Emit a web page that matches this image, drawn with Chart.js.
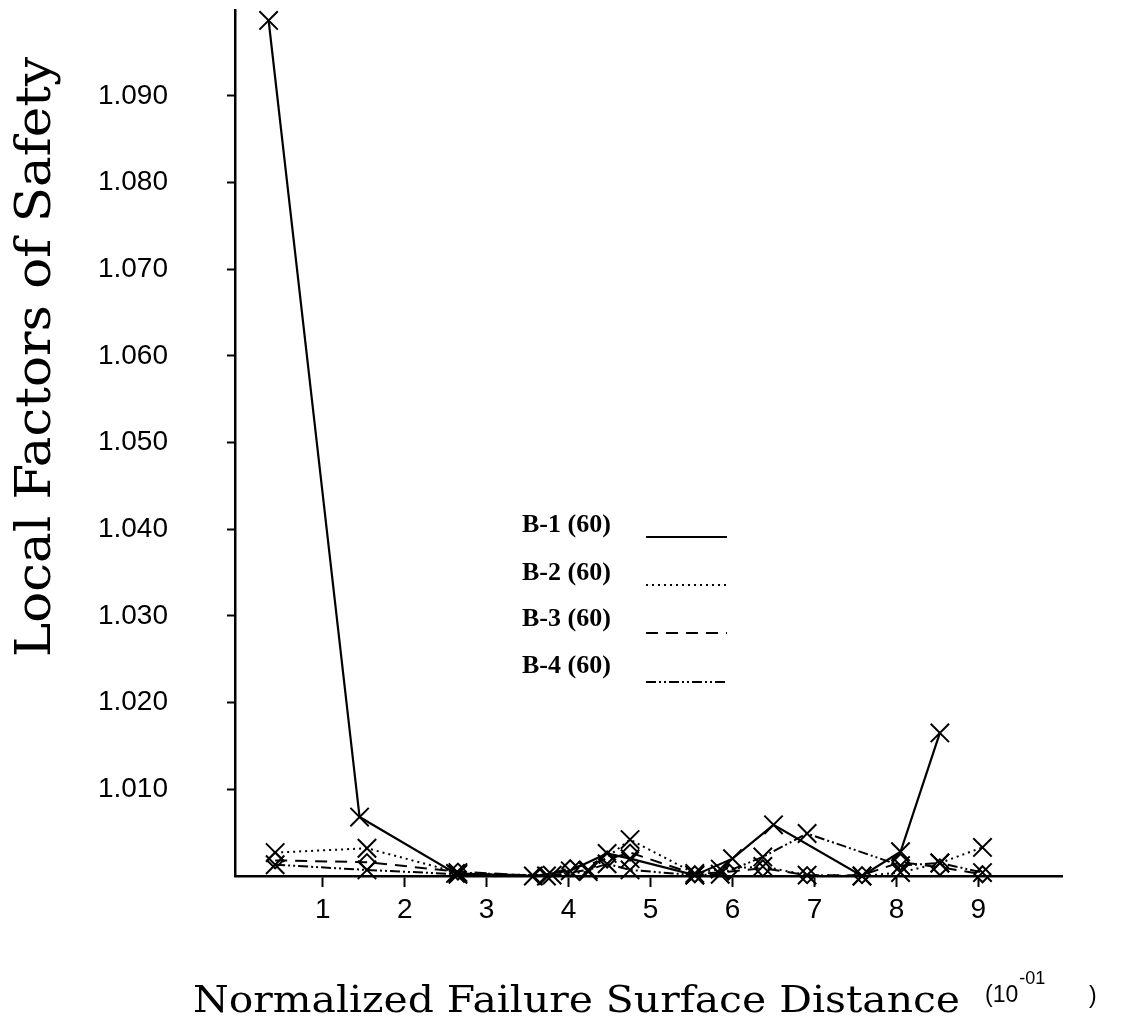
<!DOCTYPE html>
<html>
<head>
<meta charset="utf-8">
<script src="https://cdn.jsdelivr.net/npm/chart.js@4.4.1/dist/chart.umd.min.js"></script>
<style>
  html, body { margin: 0; padding: 0; background: #fff; }
  #wrap { width: 1139px; height: 1031px; }
</style>
</head>
<body>
<div id="wrap"><canvas id="c" width="1139" height="1031"></canvas></div>
<script>
// Local factors of safety along the normalized failure surface (x in units of 10^-1)
const seriesNames = ['B-1 (60)', 'B-2 (60)', 'B-3 (60)', 'B-4 (60)'];

const b1X = [0.34, 1.45, 2.62, 3.57, 4.02, 4.47, 4.75, 5.54, 6.00, 6.50, 7.58, 8.05, 8.53];
const b1Y = [1.0987, 1.0068, 1.0003, 1.0000, 1.0006, 1.0026, 1.0020, 1.0001, 1.0020, 1.0059, 1.0000, 1.0028, 1.0165];

const b2X = [0.42, 1.54, 2.65, 3.73, 4.24, 4.75, 5.54, 5.85, 6.37, 6.91, 7.58, 8.05, 8.53, 9.05];
const b2Y = [1.0027, 1.0032, 1.0004, 1.0000, 1.0005, 1.0042, 1.0003, 1.0008, 1.0011, 1.0001, 1.0000, 1.0004, 1.0015, 1.0033];

const b3X = [0.42, 1.54, 2.65, 3.65, 4.02, 4.47, 4.75, 5.54, 5.95, 6.37, 6.91, 7.58, 8.05, 8.53, 9.05];
const b3Y = [1.0018, 1.0016, 1.0005, 1.0000, 1.0009, 1.0019, 1.0027, 1.0002, 1.0005, 1.0009, 1.0001, 1.0001, 1.0016, 1.0010, 1.0002];

const b4X = [0.42, 1.54, 2.65, 3.80, 4.24, 4.47, 4.75, 5.54, 5.85, 6.37, 6.91, 8.05, 8.53, 9.05];
const b4Y = [1.0013, 1.0007, 1.0002, 1.0001, 1.0007, 1.0014, 1.0007, 1.0001, 1.0002, 1.0022, 1.0049, 1.0012, 1.0015, 1.0004];

const yTickValues = [1.010, 1.020, 1.030, 1.040, 1.050, 1.060, 1.070, 1.080, 1.090];
const xTickValues = [1, 2, 3, 4, 5, 6, 7, 8, 9];

const yTitle = 'Local Factors of Safety';
const xTitle = 'Normalized Failure Surface Distance';

const lineDashes = [[], [2, 4], [12, 8], [10, 3, 2, 3, 2, 3]];
const markerStyles = ['crossRot', 'crossRot', 'rectRot', 'crossRot'];
const markerSizes = [13, 13, 8, 13];

function pairs(xs, ys) { return xs.map((x, i) => ({ x: x, y: ys[i] })); }
const seriesData = [pairs(b1X, b1Y), pairs(b2X, b2Y), pairs(b3X, b3Y), pairs(b4X, b4Y)];

const datasets = seriesData.map((d, i) => ({
  label: seriesNames[i],
  data: d,
  borderColor: '#000',
  backgroundColor: 'rgba(0,0,0,0)',
  borderWidth: i === 0 ? 2.2 : 2,
  borderDash: lineDashes[i],
  pointStyle: markerStyles[i],
  pointRadius: markerSizes[i],
  pointBorderWidth: 2,
  pointBorderColor: '#000',
  pointBackgroundColor: 'rgba(0,0,0,0)',
  tension: 0,
  clip: false
}));

// draws text stretched horizontally to a given width
function stretchedText(ctx, text, font, width, x, y, rotate, align) {
  ctx.save();
  ctx.font = font;
  const w = ctx.measureText(text).width;
  ctx.translate(x, y);
  if (rotate) ctx.rotate(-Math.PI / 2);
  ctx.scale(width / w, 1);
  ctx.textAlign = align;
  ctx.textBaseline = 'alphabetic';
  ctx.fillText(text, 0, 0);
  ctx.restore();
}

const annotations = {
  id: 'annotations',
  afterDraw(chart) {
    const ctx = chart.ctx;
    ctx.save();
    ctx.fillStyle = '#000';
    ctx.strokeStyle = '#000';

    // axis titles
    stretchedText(ctx, yTitle, '48px "DejaVu Serif"', 600, 50, 357, true, 'center');
    stretchedText(ctx, xTitle, '37px "DejaVu Serif"', 767, 193, 1012, false, 'left');

    // scale factor note
    ctx.textAlign = 'left';
    ctx.textBaseline = 'alphabetic';
    ctx.font = '23px "Liberation Sans"';
    ctx.fillText('(10', 985, 1002);
    const w10 = ctx.measureText('(10').width;
    ctx.font = '18px "Liberation Sans"';
    ctx.fillText('-01', 985 + w10 + 1, 984);
    ctx.font = '23px "Liberation Sans"';
    ctx.fillText(')', 1089, 1003);

    // legend
    const textBase = [532, 580, 626, 673];
    const lineY = [537, 585, 633, 682];
    ctx.font = 'bold 26px "Liberation Serif"';
    seriesNames.forEach((name, i) => {
      ctx.fillText(name, 522, textBase[i]);
      ctx.beginPath();
      ctx.lineWidth = 2;
      ctx.setLineDash(lineDashes[i]);
      ctx.moveTo(646, lineY[i]);
      ctx.lineTo(727, lineY[i]);
      ctx.stroke();
    });
    ctx.setLineDash([]);
    ctx.restore();
  }
};

new Chart(document.getElementById('c'), {
  type: 'line',
  data: { datasets: datasets },
  options: {
    responsive: false,
    animation: false,
    devicePixelRatio: 1,
    layout: { autoPadding: false, padding: { top: 10, right: 77, left: 0, bottom: 0 } },
    plugins: { legend: { display: false }, tooltip: { enabled: false }, title: { display: false } },
    scales: {
      x: {
        type: 'linear',
        min: -0.07,
        max: 10.02,
        afterBuildTicks: (s) => { s.ticks = xTickValues.map(v => ({ value: v })); },
        afterFit: (s) => { s.height = 155; s.paddingLeft = 0; s.paddingRight = 0; },
        ticks: {
          color: '#000',
          font: { family: '"Liberation Sans"', size: 28 },
          padding: 6,
          maxRotation: 0,
          autoSkip: false,
          callback: (v) => String(v)
        },
        grid: { drawOnChartArea: false, drawTicks: true, tickLength: 11, tickColor: '#000', tickWidth: 2 },
        border: { display: true, color: '#000', width: 2.5 }
      },
      y: {
        type: 'linear',
        min: 1.0,
        max: 1.0999,
        afterBuildTicks: (s) => { s.ticks = yTickValues.map(v => ({ value: v })); },
        afterFit: (s) => { s.width = 235; s.paddingTop = 0; s.paddingBottom = 0; },
        ticks: {
          color: '#000',
          font: { family: '"Liberation Sans"', size: 28 },
          padding: 59,
          autoSkip: false,
          callback: (v) => Number(v).toFixed(3)
        },
        grid: { drawOnChartArea: false, drawTicks: true, tickLength: 8, tickColor: '#000', tickWidth: 2 },
        border: { display: true, color: '#000', width: 2.5 }
      }
    }
  },
  plugins: [annotations]
});
</script>
</body>
</html>
